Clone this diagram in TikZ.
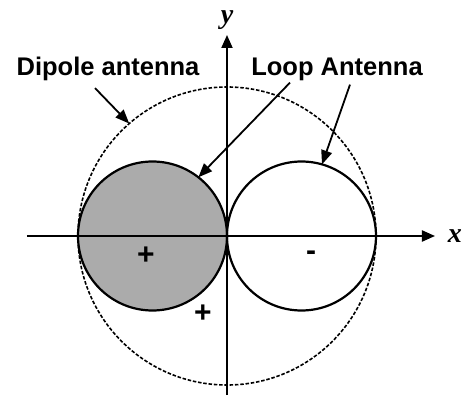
\documentclass[tikz,border=0pt]{standalone}
\usepackage{fontspec}
\setmainfont{Liberation Serif}
\setsansfont{Liberation Sans}
\usetikzlibrary{arrows.meta, calc}
\definecolor{cLOBE}{HTML}{ABABAB}
\tikzset{
  lobe/.style={
    circle, draw=black, line width=2.2pt,
    inner sep=0pt, outer sep=0pt,
    minimum size=149pt
  },
  pattern/.style={
    circle, draw=black, line width=1.6pt,
    dash pattern=on 3.5pt off 1.8pt,
    inner sep=0pt, outer sep=0pt,
    minimum size=298pt
  },
  axis/.style={
    -{Triangle[length=13pt,width=11pt]},
    line width=2pt
  },
  pointer/.style={
    -{Triangle[length=14pt,width=11pt]},
    line width=1.8pt
  },
  axislabel/.style={
    font=\fontsize{28}{30}\selectfont\bfseries\itshape,
    inner sep=0pt
  },
  antlabel/.style={
    font=\fontsize{25.5}{27}\selectfont\sffamily\bfseries,
    inner sep=1pt
  },
  sign/.style={
    font=\fontsize{30}{32}\selectfont\sffamily\bfseries,
    inner sep=0pt
  }
}

\begin{document}
\begin{tikzpicture}[x=1pt, y=1pt]
  \useasboundingbox (-227,-169) rectangle (240,236);

  % radiation patterns
  \node[pattern] (dipole) at (0,0) {};
  \node[lobe, fill=cLOBE] (lobeL) at (-74.5,0) {};
  \node[lobe] (lobeR) at (74.5,0) {};

  % axes
  \coordinate (xmin) at (-200,0);
  \coordinate (xmax) at (208,0);
  \coordinate (ymin) at (0,-159);
  \coordinate (ymax) at (0,201);
  \draw[axis] (xmin) -- (xmax);
  \draw[axis] (ymin) -- (ymax);
  \node[axislabel] (xlab) at (228,0) {x};
  \node[axislabel] (ylab) at (0,216) {y};

  % signs
  \node[sign] (plusL) at (-81,-20) {+};
  \node[sign] (plusO) at (-24,-78) {+};
  \node[sign] (minusR) at (84,-20) {-};

  % labels
  \node[antlabel] (dlabel) at (-119,167) {Dipole antenna};
  \node[antlabel] (llabel) at (110,167) {Loop Antenna};

  \draw[pointer] ([xshift=-13pt, yshift=-6pt]dlabel.south) -- (dipole.131);
  \draw[pointer] ([xshift=-47pt, yshift=-1pt]llabel.south) -- (lobeL.52);
  \draw[pointer] ([xshift=13pt, yshift=-3pt]llabel.south) -- (lobeR.74);
\end{tikzpicture}
\end{document}
